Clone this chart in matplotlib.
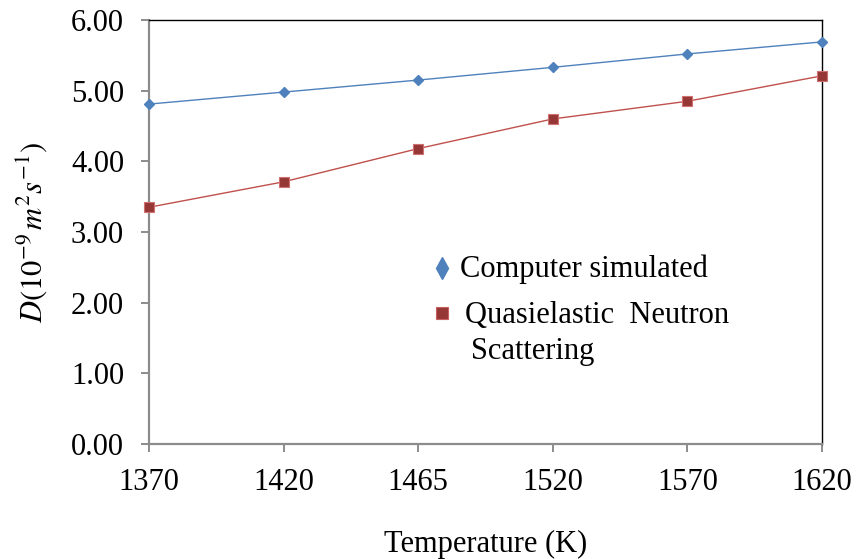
import matplotlib
matplotlib.use("Agg")
import matplotlib.pyplot as plt

# Diffusion coefficient vs temperature
temperatures = ["1370", "1420", "1465", "1520", "1570", "1620"]
simulated = [4.81, 4.98, 5.15, 5.33, 5.52, 5.69]
qens = [3.35, 3.71, 4.18, 4.60, 4.85, 5.21]
y_ticks = [0, 1, 2, 3, 4, 5, 6]

plt.rcParams["font.family"] = ["Liberation Serif", "DejaVu Serif"]
plt.rcParams["mathtext.fontset"] = "stix"

BLUE = "#4F81BD"
RED_LINE = "#C0504D"
RED_FILL = "#953735"
FS = 22

fig = plt.figure(figsize=(8.57, 5.59), dpi=100)
ax = fig.add_axes([149 / 857, 1 - 444 / 559, (822 - 149) / 857, (444 - 20) / 559])

x = list(range(len(temperatures)))
ax.plot(x, simulated, color=BLUE, lw=1.0, marker="D", ms=5.5,
        mfc=BLUE, mec=BLUE, clip_on=False, zorder=3)
ax.plot(x, qens, color=RED_LINE, lw=1.0, marker="s", ms=7,
        mfc=RED_FILL, mec="#D07070", mew=0.8, clip_on=False, zorder=3)

ax.set_xlim(0, len(temperatures) - 1)
ax.set_ylim(0, 6)
ax.set_xticks(x)
ax.set_xticklabels(temperatures)
ax.set_yticks(y_ticks)
ax.set_yticklabels([f"{v:.2f}" for v in y_ticks])

for side in ("left", "bottom"):
    ax.spines[side].set_color("#8C8C8C")
    ax.spines[side].set_linewidth(1.6)
for side in ("top", "right"):
    ax.spines[side].set_color("black")
    ax.spines[side].set_linewidth(1.0)

ax.tick_params(axis="both", direction="out", length=6, width=1.4,
               color="#8C8C8C", labelsize=FS)
ax.tick_params(axis="y", pad=12)
ax.tick_params(axis="x", pad=11)

ax.set_xlabel("Temperature (K)", fontsize=FS, labelpad=24)
ax.set_ylabel(r"$D(10^{-9}\,m^2 s^{-1})$", fontsize=FS, labelpad=16)

# Hand-placed legend
tr = ax.transAxes
ax.plot([0.435], [0.416], transform=tr, marker="d", ms=11, color=BLUE,
        ls="none", clip_on=False)
ax.text(0.462, 0.412, "Computer simulated", transform=tr, fontsize=FS,
        va="center", ha="left")
ax.plot([0.436], [0.310], transform=tr, marker="s", ms=8.5, mfc=RED_FILL,
        mec="#C86060", mew=0.8, ls="none", clip_on=False)
ax.text(0.470, 0.303, "Quasielastic  Neutron", transform=tr, fontsize=FS,
        va="center", ha="left")
ax.text(0.478, 0.217, "Scattering", transform=tr, fontsize=FS,
        va="center", ha="left")

fig.savefig("out.png", dpi=100)
